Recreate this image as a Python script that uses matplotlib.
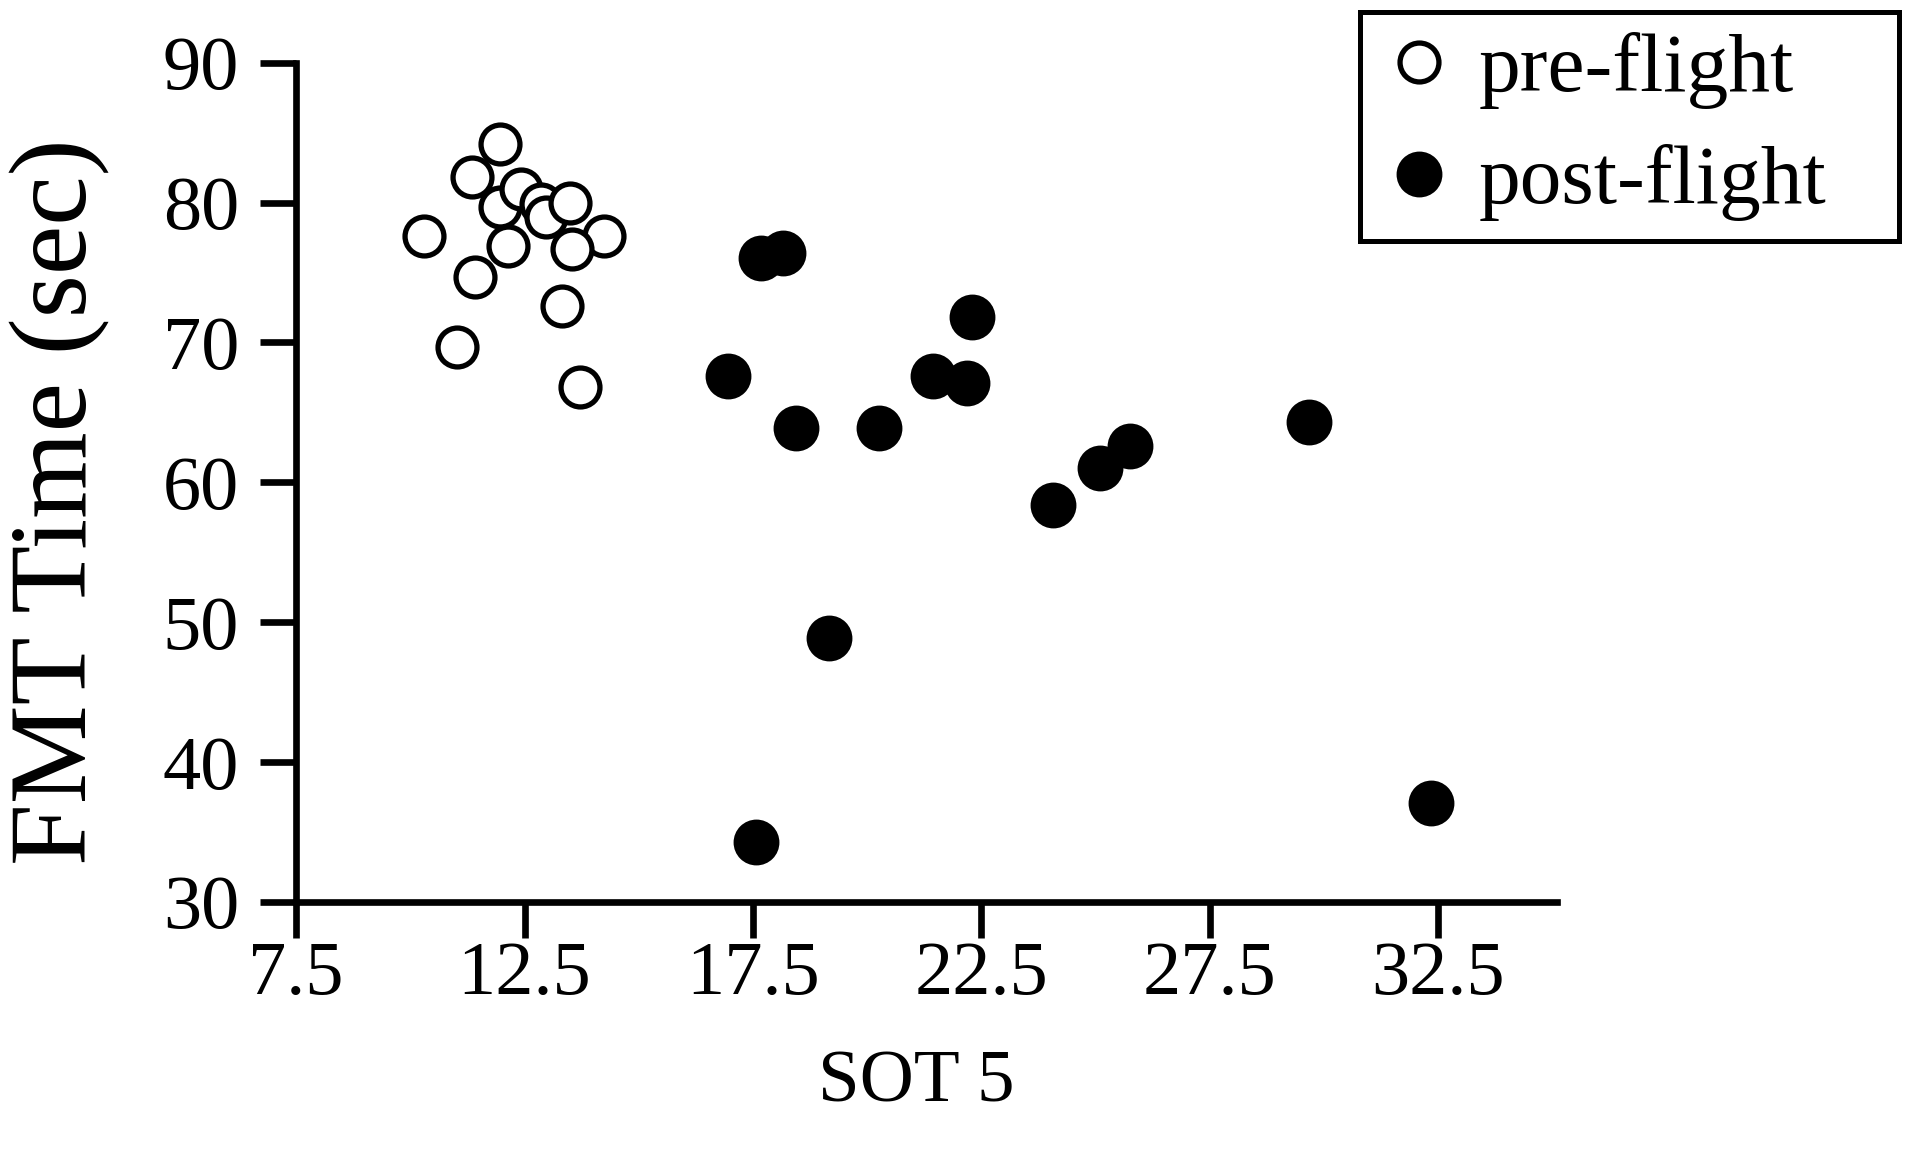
import matplotlib
matplotlib.use('Agg')
import matplotlib.pyplot as plt

plt.rcParams['font.family'] = ['Liberation Serif', 'DejaVu Serif']

# pre-flight (open circles)
pre_x = [11.96, 11.36, 10.29, 11.42, 11.02, 11.96, 12.43, 12.14, 12.87, 12.98,
         13.49, 14.25, 13.53, 13.31, 13.71]
pre_y = [84.2, 81.8, 77.6, 74.7, 69.7, 79.7, 81.0, 76.9, 79.9, 79.0,
         80.0, 77.6, 76.7, 72.6, 66.8]

# post-flight (filled circles)
post_x = [17.67, 18.15, 22.30, 16.95, 18.44, 20.25, 21.45, 22.19, 25.75, 25.10,
          24.07, 17.57, 29.68, 32.35, 19.16]
post_y = [76.0, 76.4, 71.8, 67.6, 63.9, 63.9, 67.6, 67.1, 62.6, 61.0,
          58.4, 34.3, 64.3, 37.1, 48.9]

xticks = [7.5, 12.5, 17.5, 22.5, 27.5, 32.5]
yticks = [30, 40, 50, 60, 70, 80, 90]

fig = plt.figure(figsize=(19.2, 11.58), dpi=100)
ax = fig.add_axes([0.1542, 0.2211, 0.6568, 0.7248])

ax.plot(pre_x, pre_y, 'o', linestyle='none', markersize=28, markerfacecolor='white',
        markeredgecolor='black', markeredgewidth=3.8, label='pre-flight', zorder=3)
ax.plot(post_x, post_y, 'o', linestyle='none', markersize=31, markerfacecolor='black',
        markeredgecolor='black', markeredgewidth=2, label='post-flight', zorder=3)

ax.set_xlim(7.5, 35.1)
ax.set_ylim(30, 90)
ax.set_xticks(xticks)
ax.set_xticklabels([str(t) for t in xticks])
ax.set_yticks(yticks)

for s in ['top', 'right']:
    ax.spines[s].set_visible(False)
for s in ['left', 'bottom']:
    ax.spines[s].set_linewidth(4.8)

ax.tick_params(axis='both', direction='out', length=26, width=4.8, labelsize=55)
ax.tick_params(axis='x', pad=2)
ax.tick_params(axis='y', pad=15)

ax.set_xlabel('SOT 5', fontsize=54, va='center')
ax.xaxis.set_label_coords(0.4917, -0.217)
ax.set_ylabel('FMT Time (sec)', fontsize=80, va='center')
ax.yaxis.set_label_coords(-0.187, 0.4766)

# legend box in the upper right corner
leg = ax.legend(loc='upper left',
                bbox_to_anchor=(1360 / 1920, 0, 539 / 1920, 1 - 12 / 1158),
                bbox_transform=fig.transFigure, mode='expand', fontsize=60,
                frameon=True, fancybox=False, edgecolor='black', framealpha=1,
                handletextpad=0.25, handlelength=0.93, borderpad=0.24,
                labelspacing=0.42, borderaxespad=0)
leg.get_frame().set_linewidth(3.6)

plt.savefig('out.png', dpi=100)
